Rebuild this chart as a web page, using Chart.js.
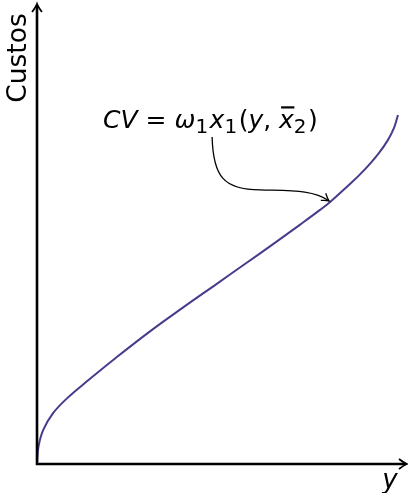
<!DOCTYPE html>
<html>
<head>
<meta charset="utf-8">
<script src="https://cdn.jsdelivr.net/npm/chart.js@4"></script>
<style>
  html, body { margin: 0; padding: 0; background: #fff; }
  canvas { display: block; }
</style>
</head>
<body>
<canvas id="grafico" width="408" height="493"></canvas>
<script>
// curva de custo variavel (unidades arbitrarias)
const producao = [0, 0.04, 0.17, 0.44, 0.83, 1.41, 2.11, 3.13, 4.04, 4.99, 5.76, 6.54, 7.29, 7.84, 8.12, 8.67, 9.09, 9.45, 9.72, 9.89, 10.0];
const custos   = [0, 0.49, 0.97, 1.45, 1.88, 2.39, 2.98, 3.80, 4.48, 5.17, 5.73, 6.30, 6.86, 7.28, 7.51, 8.02, 8.45, 8.88, 9.28, 9.63, 10.0];

const rotuloY = "Custos";
const rotuloX = "y";

// ponto da curva para onde aponta a seta e ancora do texto (unidades dos dados)
const alvoSeta = [8.09, 7.54];
const ancoraTexto = [1.83, 9.63];

// CV = ω1 x1(y, x̄2)
const formula = [
  { t: "CV", it: true }, { t: " = " }, { t: "ω", it: true }, { t: "1", sub: true },
  { t: "x", it: true, seta: true }, { t: "1", sub: true }, { t: "(" }, { t: "y", it: true },
  { t: ", " }, { t: "x", it: true, barra: true }, { t: "2", sub: true }, { t: ")" }
];

const FONTE = '"DejaVu Sans", sans-serif';

function pontaSeta(ctx, x, y, ang, tam) {
  // ponta estilo latex "->"
  ctx.save();
  ctx.translate(x, y);
  ctx.rotate(ang);
  ctx.beginPath();
  ctx.moveTo(-tam, -tam * 0.62);
  ctx.quadraticCurveTo(-tam * 0.3, -tam * 0.1, 0, 0);
  ctx.quadraticCurveTo(-tam * 0.3, tam * 0.1, -tam, tam * 0.62);
  ctx.stroke();
  ctx.restore();
}

const eixosPlugin = {
  id: 'eixos',
  afterDraw(chart) {
    const ctx = chart.ctx;
    const a = chart.chartArea;
    const sx = chart.scales.x, sy = chart.scales.y;
    const x0 = sx.getPixelForValue(0), y0 = sy.getPixelForValue(0);

    ctx.save();
    ctx.strokeStyle = '#000';
    ctx.lineCap = 'butt';
    ctx.lineWidth = 2.6;
    ctx.beginPath();
    ctx.moveTo(x0 - 1.3, y0);
    ctx.lineTo(a.right - 1, y0);
    ctx.moveTo(x0, y0 + 1.3);
    ctx.lineTo(x0, a.top + 1);
    ctx.stroke();
    ctx.lineWidth = 1.8;
    pontaSeta(ctx, a.right, y0, 0, 8);
    pontaSeta(ctx, x0, a.top, -Math.PI / 2, 8);

    // rotulos dos eixos
    ctx.fillStyle = '#000';
    ctx.font = '26.5px ' + FONTE;
    ctx.textAlign = 'center';
    ctx.textBaseline = 'alphabetic';
    ctx.save();
    ctx.translate(26, 58);
    ctx.rotate(-Math.PI / 2);
    ctx.fillText(rotuloY, 0, 0);
    ctx.restore();
    ctx.font = 'italic 26px ' + FONTE;
    ctx.fillText(rotuloX, 390, 488);

    // formula
    let x = sx.getPixelForValue(ancoraTexto[0]);
    const base = sy.getPixelForValue(ancoraTexto[1]);
    let inicioSeta = null;
    ctx.textAlign = 'left';
    formula.forEach(r => {
      const tam = r.sub ? 20 : 25;
      ctx.font = (r.it ? 'italic ' : '') + tam + 'px ' + FONTE;
      const w = ctx.measureText(r.t).width;
      const y = base + (r.sub ? 5 : 0);
      ctx.fillText(r.t, x, y);
      if (r.barra) {
        ctx.lineWidth = 2.2;
        ctx.beginPath();
        ctx.moveTo(x + 2, base - 20.5);
        ctx.lineTo(x + w + 0.5, base - 20.5);
        ctx.stroke();
      }
      if (r.seta) inicioSeta = [x + 2.5, base + 9];
      x += w + (r.sub ? 1.5 : 0);
    });

    // seta curva ate a curva
    const ex = sx.getPixelForValue(alvoSeta[0]);
    const ey = sy.getPixelForValue(alvoSeta[1]);
    const [bx, by] = inicioSeta;
    const mx = bx + 48, my = by + 53;
    ctx.lineWidth = 1.3;
    ctx.beginPath();
    ctx.moveTo(bx, by);
    ctx.bezierCurveTo(bx + 1, by + 40, bx + 12, my, mx, my);
    ctx.bezierCurveTo(mx + 32, my + 1, ex - 16, ey - 11, ex, ey);
    ctx.stroke();
    pontaSeta(ctx, ex, ey, Math.atan2(11, 16), 7);
    ctx.restore();
  }
};

new Chart(document.getElementById('grafico'), {
  type: 'scatter',
  data: {
    datasets: [{
      data: producao.map((v, i) => ({ x: v, y: custos[i] })),
      showLine: true,
      borderColor: '#463c8c',
      borderWidth: 2,
      pointRadius: 0,
      tension: 0.4,
      fill: false
    }]
  },
  options: {
    responsive: false,
    animation: false,
    devicePixelRatio: 1,
    layout: { padding: { left: 37, top: 4, right: 1, bottom: 29 } },
    scales: {
      x: { type: 'linear', display: false, min: 0, max: 10.25 },
      y: { type: 'linear', display: false, min: 0, max: 13.18 }
    },
    plugins: { legend: { display: false }, tooltip: { enabled: false } }
  },
  plugins: [eixosPlugin]
});
</script>
</body>
</html>
